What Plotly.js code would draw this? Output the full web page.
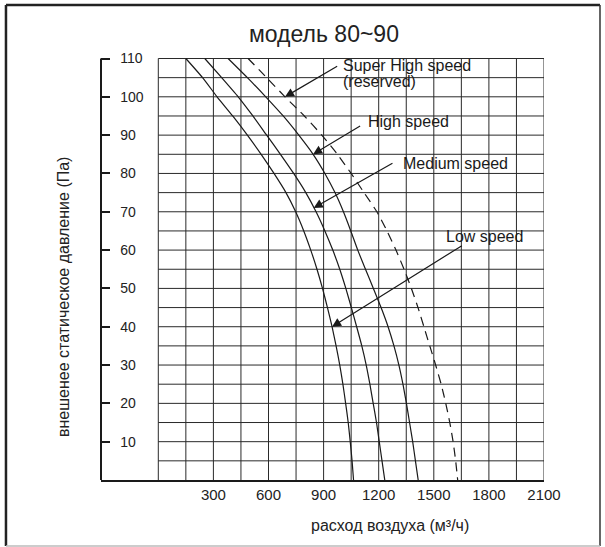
<!DOCTYPE html>
<html>
<head>
<meta charset="utf-8">
<script src="https://cdn.plot.ly/plotly-3.0.1.min.js"></script>
<style>
  html, body { margin: 0; padding: 0; background: #fff; }
  #chart { width: 605px; height: 547px; }
</style>
</head>
<body>
<div id="chart"></div>
<script>
// ---- data ----
const pressure = [110,105,100,95,90,85,80,75,70,65,60,55,50,45,40,35,30,25,20,15,10,5,0];
const lowFlow = [150,241,320,405,485,560,630,695,748,792,830,864,894,921,946,968,988,1005,1020,1034,1045,1055,1063];
const mediumFlow = [253,345,435,515,590,665,737,803,859,907,950,988,1021,1051,1080,1108,1132,1152,1170,1188,1203,1218,1233];
const highFlow = [380,485,585,680,765,843,907,962,1008,1048,1086,1128,1171,1213,1251,1283,1310,1332,1351,1368,1385,1400,1415];
const superHighFlow = [489,590,690,795,890,975,1050,1120,1190,1245,1294,1338,1378,1414,1446,1478,1510,1540,1565,1587,1605,1619,1630];

const xTickVals = [300,600,900,1200,1500,1800,2100];
const xTickText = ['300','600','900','1200','1500','1800','2100'];
const yTickVals = [10,20,30,40,50,60,70,80,90,100,110];
const yTickText = ['10','20','30','40','50','60','70','80','90','100','110'];
const xGrid = [0,150,300,450,600,750,900,1050,1200,1350,1500,1650,1800,1950,2100];
const yGrid = [5,10,15,20,25,30,35,40,45,50,55,60,65,70,75,80,85,90,95,100,105,110];

const titleText = 'модель 80~90';
const xTitle = 'расход воздуха (м³/ч)';
const yTitle = 'внешенее статическое давление (Па)';
const labels = ['Super High speed', '(reserved)', 'High speed', 'Medium speed', 'Low speed'];

// ---- chart ----
const FONT = 'Liberation Sans, Arial, sans-serif';
const INK = '#1a1a1a';

function curve(xs, dash) {
  return {
    x: xs, y: pressure, type: 'scatter', mode: 'lines', hoverinfo: 'skip',
    line: {color: INK, width: 1.2, shape: 'spline', smoothing: 0.6, dash: dash || 'solid'},
    showlegend: false
  };
}
const traces = [
  curve(lowFlow), curve(mediumFlow), curve(highFlow), curve(superHighFlow, '9px,6px')
];

const shapes = [];
xGrid.forEach(v => shapes.push({type:'line', xref:'x', yref:'y', x0:v, x1:v, y0:0, y1:110,
  line:{color:'#2a2a2a', width:1}, layer:'below'}));
yGrid.forEach(v => shapes.push({type:'line', xref:'x', yref:'y', x0:0, x1:2100, y0:v, y1:v,
  line:{color:'#2a2a2a', width:1}, layer:'below'}));
// y axis line (stops at 110)
shapes.push({type:'line', xref:'paper', yref:'y', x0:0, x1:0, y0:0, y1:110, line:{color:INK, width:2}});
// outer frame
shapes.push({type:'line', xref:'paper', yref:'paper', x0:-0.2145, x1:-0.2145, y0:-0.1524, y1:1.097, line:{color:'#222', width:2.5}});
shapes.push({type:'line', xref:'paper', yref:'paper', x0:-0.2145, x1:1.1264, y0:1.097, y1:1.097, line:{color:'#222', width:2.5}});
shapes.push({type:'line', xref:'paper', yref:'paper', x0:1.1264, x1:1.1264, y0:-0.1524, y1:1.097, line:{color:'#333', width:1.5}});
shapes.push({type:'line', xref:'paper', yref:'paper', x0:-0.2145, x1:1.1264, y0:-0.1524, y1:-0.1524, line:{color:'#bbb', width:1.5}});

function arrow(tx, ty, ax, ay) {
  return {x:tx, y:ty, xref:'x', yref:'y', ax:ax, ay:ay, axref:'x', ayref:'y', text:'',
    showarrow:true, arrowhead:2, arrowsize:1.5, arrowwidth:1.2, arrowcolor:INK};
}
function label(t, x, y) {
  return {x:x, y:y, xref:'x', yref:'y', text:t, showarrow:false, xanchor:'left', yanchor:'middle',
    font:{family:FONT, size:16, color:INK}};
}
const annotations = [
  arrow(superHighFlow[2], pressure[2], 982, 108.2),
  arrow(highFlow[5], pressure[5], 1107, 92.6),
  arrow(846, 71, 1283, 82.9),
  arrow(lowFlow[14], pressure[14], 1661, 61.4),
  label(labels[0], 995, 108.3),
  label(labels[1], 995, 103.9),
  label(labels[2], 1132, 93.5),
  label(labels[3], 1322, 82.6),
  label(labels[4], 1558, 63.5),
  {xref:'paper', yref:'paper', x:0.503, y:1.030, text:titleText, showarrow:false,
    xanchor:'center', yanchor:'middle', font:{family:FONT, size:23, color:'#222'}},
  {xref:'paper', yref:'paper', x:0.652, y:-0.106, text:xTitle, showarrow:false,
    xanchor:'center', yanchor:'middle', font:{family:FONT, size:16, color:'#222'}},
  {xref:'paper', yref:'paper', x:-0.0858, y:0.4226, text:yTitle, showarrow:false, textangle:-90,
    xanchor:'center', yanchor:'middle', font:{family:FONT, size:16, color:'#222'}}
];

const layout = {
  width: 605, height: 547,
  margin: {l: 101, r: 61, t: 47, b: 67, pad: 0},
  paper_bgcolor: '#fff', plot_bgcolor: '#fff',
  showlegend: false,
  xaxis: {
    range: [-312, 2100], showgrid: false, zeroline: false,
    showline: true, linecolor: INK, linewidth: 2,
    ticks: '', tickvals: xTickVals, ticktext: xTickText,
    tickfont: {family: FONT, size: 15, color: '#222'}, ticklabelstandoff: 0,
    fixedrange: true
  },
  yaxis: {
    range: [0, 113], showgrid: false, zeroline: false,
    showline: false,
    ticks: 'inside', ticklen: 9, tickwidth: 2, tickcolor: INK,
    tickvals: yTickVals, ticktext: yTickText, ticklabelposition: 'inside',
    tickfont: {family: FONT, size: 14, color: '#222'}, ticklabelstandoff: 10,
    fixedrange: true
  },
  shapes: shapes,
  annotations: annotations
};

Plotly.newPlot('chart', traces, layout, {displayModeBar: false, staticPlot: true});
</script>
</body>
</html>
